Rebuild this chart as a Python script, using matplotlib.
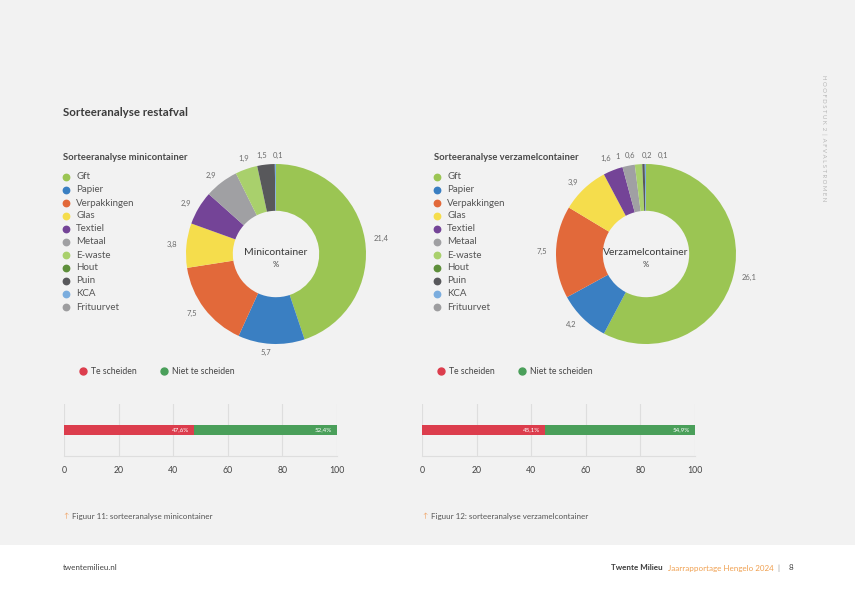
import numpy as np
import matplotlib.pyplot as plt
from matplotlib.patches import Rectangle
from matplotlib.lines import Line2D

plt.rcParams['font.family'] = ['Lato', 'DejaVu Sans']

W, H = 855, 600

# data
categories = ['Gft', 'Papier', 'Verpakkingen', 'Glas', 'Textiel', 'Metaal',
              'E-waste', 'Hout', 'Puin', 'KCA', 'Frituurvet']
colors = ['#9bc553', '#3a7fc2', '#e2693a', '#f5dd4c', '#744497', '#a0a0a3',
          '#a9d06c', '#5e8f3b', '#58585b', '#7badde', '#9d9d9f']
mini_values = [21.4, 5.7, 7.5, 3.8, 2.9, 2.9, 1.9, 0, 1.5, 0.1, 0]
verz_values = [26.1, 4.2, 7.5, 3.9, 1.6, 1.0, 0.6, 0, 0.2, 0.1, 0]

split_labels = ['Te scheiden', 'Niet te scheiden']
split_colors = ['#dc3d4d', '#4a9f5a']
mini_split = [47.6, 52.4]
verz_split = [45.1, 54.9]
bar_ticks = [0, 20, 40, 60, 80, 100]

fig = plt.figure(figsize=(W / 100, H / 100), dpi=100)
fig.patch.set_facecolor('white')
fig.patches.append(Rectangle((0, 1 - 545 / H), 1, 545 / H, transform=fig.transFigure,
                             facecolor='#f2f2f2', edgecolor='none', zorder=-10))


def ax_px(left, top, w, h):
    return fig.add_axes([left / W, 1 - (top + h) / H, w / W, h / H])


def fmt(v):
    s = ('%.1f' % v).rstrip('0').rstrip('.')
    return s.replace('.', ',')


def spread_top_labels(texts):
    # labels of the thin slices at the top get pushed apart so they don't collide
    top = [t for t in texts if t.get_text() and t.get_position()[1] > 0.95]
    if len(top) < 2:
        return
    top.sort(key=lambda t: t.get_position()[0])
    xs = [t.get_position()[0] for t in top]
    half = [(len(t.get_text()) * 2.1 + 2) / 90 for t in top]
    for _ in range(200):
        moved = False
        for i in range(len(xs) - 1):
            need = half[i] + half[i + 1]
            gap = xs[i + 1] - xs[i]
            if gap < need:
                d = (need - gap) / 2
                xs[i] -= d
                xs[i + 1] += d
                moved = True
        if not moved:
            break
    for t, x in zip(top, xs):
        t.set_position((x, max(t.get_position()[1], 1.06)))
        t.set_ha('center')


def draw_donut(cx, cy, values, center_txt):
    r = 90
    ax = ax_px(cx - 1.5 * r, cy - 1.5 * r, 3 * r, 3 * r)
    labels = [fmt(v) if v > 0 else '' for v in values]
    wedges, texts = ax.pie(values, colors=colors, labels=labels, startangle=90,
                           counterclock=False, radius=1, labeldistance=1.1,
                           wedgeprops=dict(width=0.52, edgecolor='none'),
                           textprops=dict(fontsize=5.5, color='#6b6b6b'))
    spread_top_labels(texts)
    ax.set_xlim(-1.5, 1.5)
    ax.set_ylim(-1.5, 1.5)
    ax.axis('off')
    ax.text(0, 0.02, center_txt, ha='center', va='center', fontsize=7.5, color='#3c3c3c')
    ax.text(0, -0.12, '%', ha='center', va='center', fontsize=5.5, color='#3c3c3c')


def draw_legend(x, y, title):
    fig.text(x / W, 1 - y / H, title, fontsize=6.8, fontweight='bold', color='#4a4a4a',
             va='center')
    for i, (c, col) in enumerate(zip(categories, colors)):
        yy = 1 - (y + 19 + i * 13) / H
        fig.add_artist(Line2D([(x + 3) / W], [yy], marker='o', markersize=4.6,
                              color=col, linestyle='none', transform=fig.transFigure))
        fig.text((x + 13) / W, yy, c, fontsize=7, color='#555555', va='center')


def draw_bar(left, values):
    ax = ax_px(left, 404, 273, 52)
    ax.set_facecolor('none')
    ax.set_xlim(0, 100)
    ax.set_ylim(-1, 1)
    start = 0
    for v, col, lab in zip(values, split_colors, split_labels):
        ax.barh(0, v, left=start, height=0.4, color=col, label=lab, zorder=3)
        ax.text(start + v - 1.8, 0, fmt(v) + '%', ha='right', va='center',
                fontsize=4.5, color='white', zorder=4)
        start += v
    ax.set_xticks(bar_ticks)
    ax.set_xticklabels([str(t) for t in bar_ticks], fontsize=6.3, color='#444444')
    ax.set_yticks([])
    ax.grid(axis='x', color='#dedede', linewidth=0.8, zorder=0)
    for s in ['top', 'right', 'left']:
        ax.spines[s].set_visible(False)
    ax.spines['bottom'].set_color('#dedede')
    ax.tick_params(axis='x', length=0, pad=7)
    handles = [Line2D([], [], marker='o', color=c, linestyle='none', markersize=5)
               for c in split_colors]
    ax.legend(handles, split_labels, loc='center left',
              bbox_to_anchor=((left + 15) / W, 1 - 372 / H),
              bbox_transform=fig.transFigure, ncol=2, frameon=False,
              fontsize=6.2, handlelength=1.0, handletextpad=0.4, columnspacing=2.7,
              labelcolor='#444444', borderaxespad=0, borderpad=0)


fig.text(63 / W, 1 - 112 / H, 'Sorteeranalyse restafval', fontsize=8.3,
         fontweight='bold', color='#3c3c3c', va='center')

draw_legend(63, 158, 'Sorteeranalyse minicontainer')
draw_legend(434, 158, 'Sorteeranalyse verzamelcontainer')
draw_donut(276, 254, mini_values, 'Minicontainer')
draw_donut(646, 254, verz_values, 'Verzamelcontainer')
draw_bar(64, mini_split)
draw_bar(422, verz_split)

# captions
for x, txt in [(63, 'Figuur 11: sorteeranalyse minicontainer'),
               (422, 'Figuur 12: sorteeranalyse verzamelcontainer')]:
    fig.text(x / W, 1 - 516 / H, '\u2191', fontsize=5, color='#f0a060', va='center')
    fig.text((x + 9) / W, 1 - 516 / H, txt, fontsize=5.8, color='#555555', va='center')

# footer
fig.text(663 / W, 1 - 568 / H, 'Twente Milieu', fontsize=5.8, fontweight='bold',
         color='#3c3c3c', va='center', ha='right')
fig.text(668 / W, 1 - 568 / H, 'Jaarrapportage Hengelo 2024', fontsize=5.8,
         color='#f0a050', va='center')
fig.text(63 / W, 1 - 568 / H, 'twentemilieu.nl', fontsize=5.8, color='#444444', va='center')
fig.text(777 / W, 1 - 568 / H, '|', fontsize=5.8, color='#888888', va='center')
fig.text(789 / W, 1 - 568 / H, '8', fontsize=5.8, color='#444444', va='center')

fig.text(824 / W, 1 - 138 / H, 'H O O F D S T U K  2  |  A F V A L S T R O M E N',
         fontsize=4.3, color='#b5b5b5', rotation=-90, ha='center', va='center')

fig.savefig('out.png', dpi=100, facecolor=fig.get_facecolor())
